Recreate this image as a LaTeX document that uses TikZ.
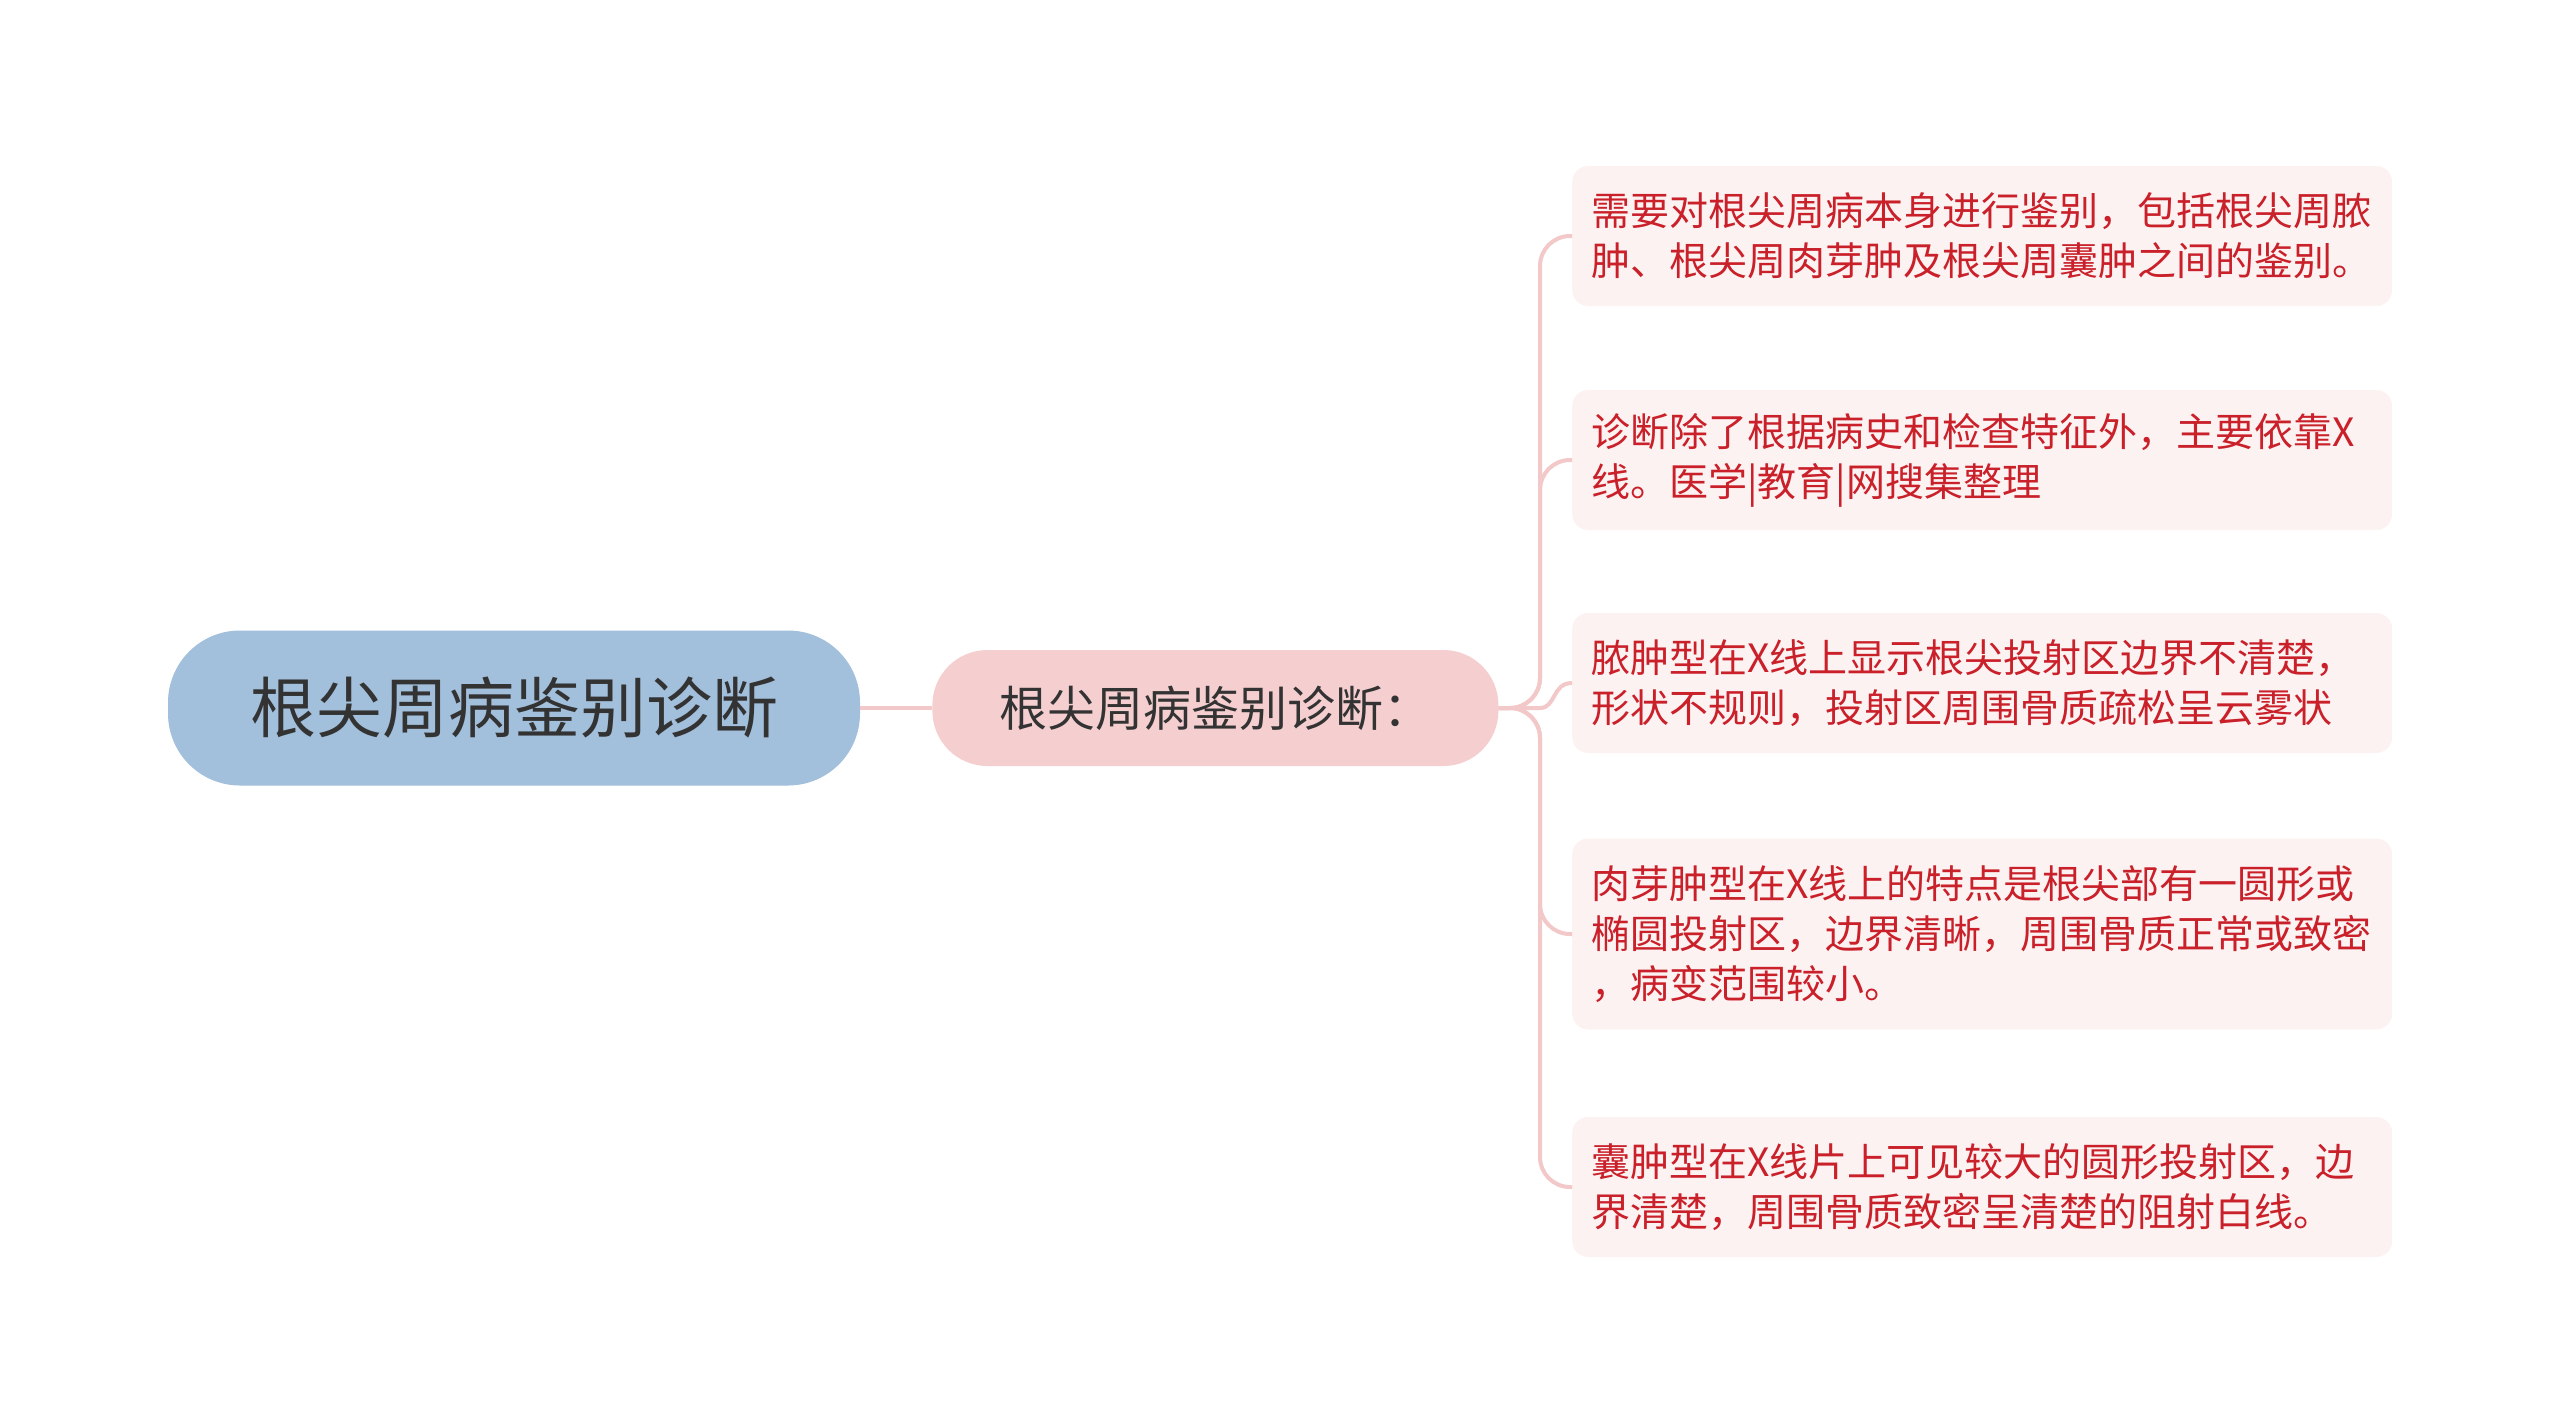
\documentclass[tikz,border=0pt]{standalone}
\usepackage{fontspec}
\setmainfont{Noto Sans CJK SC}
\usetikzlibrary{positioning}

\definecolor{rootfill}{HTML}{A2BFDB}
\definecolor{subfill}{HTML}{F5CFD0}
\definecolor{leaffill}{HTML}{FDF2F2}
\definecolor{linkpink}{HTML}{F2C8C9}
\definecolor{leaftext}{HTML}{C9202A}
\definecolor{darktext}{HTML}{333333}

\begin{document}
\begin{tikzpicture}[
    x=1pt, y=-1pt,
    root/.style={fill=rootfill, rounded corners=72pt, minimum width=692pt,
        minimum height=155pt, text=darktext, font=\fontsize{66}{80}\selectfont},
    sub/.style={fill=subfill, rounded corners=55pt, minimum width=566pt,
        minimum height=116pt, text=darktext, font=\fontsize{48}{58}\selectfont},
    leaf/.style={fill=leaffill, rounded corners=16pt, anchor=west,
        text width=782pt, inner xsep=19pt, minimum height=140pt, align=left,
        text=leaftext, font=\fontsize{39}{50}\selectfont},
    link/.style={draw=linkpink, line width=4pt},
]
    \useasboundingbox (0,0) rectangle (2560,1417);

    \node[root]                    (root) at (514,708) {根尖周病鉴别诊断};
    \node[sub, right=72pt of root] (sub)  {根尖周病鉴别诊断：};

    \node[leaf] (l1) at (1572,236) {需要对根尖周病本身进行鉴别，包括根尖周脓\\肿、根尖周肉芽肿及根尖周囊肿之间的鉴别。};
    \node[leaf] (l2) at (1572,460) {诊断除了根据病史和检查特征外，主要依靠X\\线。医学|教育|网搜集整理};
    \node[leaf] (l3) at (1572,683) {脓肿型在X线上显示根尖投射区边界不清楚，\\形状不规则，投射区周围骨质疏松呈云雾状};
    \node[leaf, minimum height=191pt]
                (l4) at (1572,934) {肉芽肿型在X线上的特点是根尖部有一圆形或\\椭圆投射区，边界清晰，周围骨质正常或致密\\，病变范围较小。};
    \node[leaf] (l5) at (1572,1187) {囊肿型在X线片上可见较大的圆形投射区，边\\界清楚，周围骨质致密呈清楚的阻射白线。};

    \coordinate (trunk) at (1540,708);

    \draw[link] (root.east) -- (sub.west);
    \foreach \l in {l1,l2,l4,l5}
        \draw[link, rounded corners=30pt] (sub.east) -| (trunk |- \l.west) -- (\l.west);
    \draw[link] (sub.east) -- (trunk) .. controls (1556,708) and (1552,683) .. (l3.west);
\end{tikzpicture}
\end{document}
